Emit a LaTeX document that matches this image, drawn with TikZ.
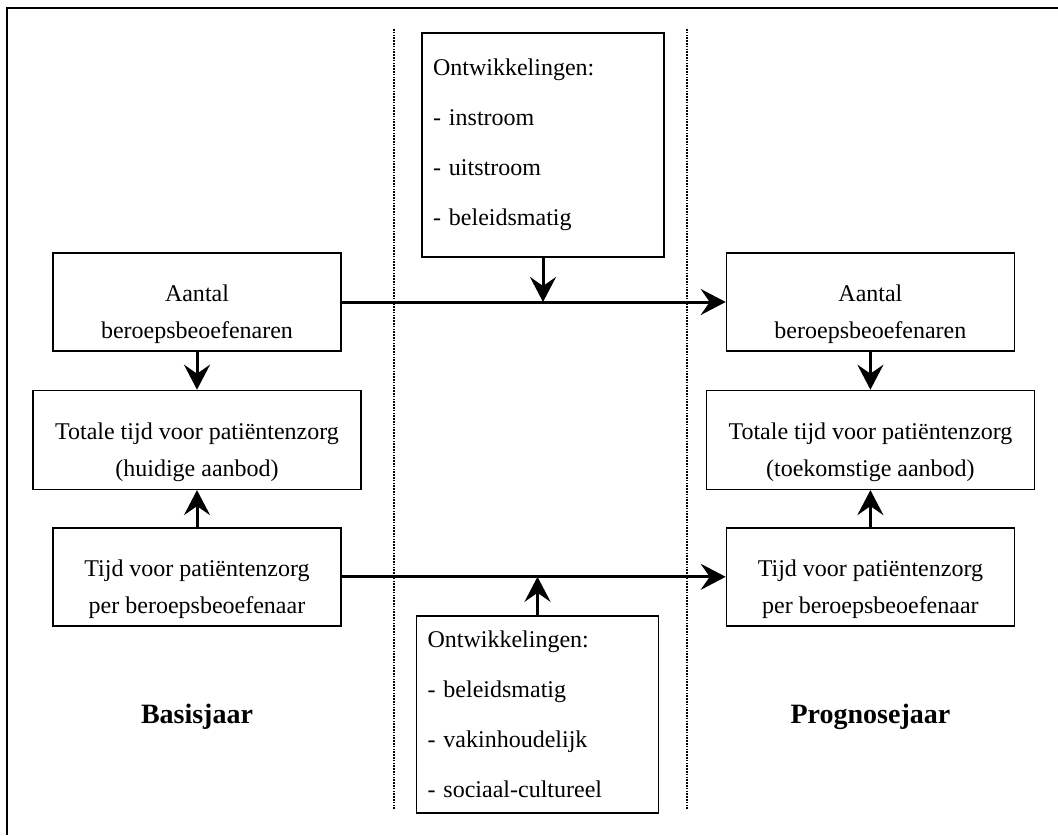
\documentclass[tikz,border=0pt]{standalone}
\usepackage{fontspec}
\setmainfont{Liberation Serif}
\usetikzlibrary{positioning, arrows.meta}
\newcommand{\topgap}{\rule{0pt}{21pt}}
\tikzset{
    stap/.style={rectangle, draw=black, line width=0.7pt, align=center, inner ysep=1pt, font=\fontsize{12}{18.5}\selectfont, minimum width=144pt, minimum height=49pt},
    totaal/.style={stap, minimum width=164pt, minimum height=49.5pt},
    ontw/.style={rectangle, draw=black, line width=0.7pt, align=left, text width=110pt, inner xsep=5.5pt, font=\fontsize{12}{25}\selectfont},
    jaar/.style={font=\fontsize{14}{17}\selectfont\bfseries},
    flow/.style={->, line width=1.5pt},
    grens/.style={line width=1pt, dash pattern=on 0.8pt off 0.6pt},
    >={Stealth[length=12.5pt, width=13pt, inset=4.5pt]},
}

\begin{document}
\begin{tikzpicture}[x=0.5pt, y=-0.5pt]
                        \useasboundingbox (0,0) rectangle (1058,835);
                        % kader en scheidingslijnen
                        \draw[line width=1pt] (7,835) |- (1058,8);
                        \draw[grens] (394,29) -- (394,810);
                        \draw[grens] (687,29) -- (687,810);
                        % basisjaar
                        \node [stap] (aantalL) at (197,302) {\topgap Aantal\\beroepsbeoefenaren};
                        \node [totaal] (totaalL) [below=19pt of aantalL] {\topgap Totale tijd voor patiëntenzorg\\(huidige aanbod)};
                        \node [stap] (tijdL) [below=18.5pt of totaalL] {\topgap Tijd voor patiëntenzorg\\per beroepsbeoefenaar};
                        \node [jaar] (basis) [below=35pt of tijdL] {Basisjaar};
                        % prognosejaar
                        \node [stap] (aantalR) [right=192pt of aantalL] {\topgap Aantal\\beroepsbeoefenaren};
                        \node [totaal] (totaalR) [below=19pt of aantalR] {\topgap Totale tijd voor patiëntenzorg\\(toekomstige aanbod)};
                        \node [stap] (tijdR) [below=18.5pt of totaalR] {\topgap Tijd voor patiëntenzorg\\per beroepsbeoefenaar};
                        \node [jaar] (prognose) [below=35pt of tijdR] {Prognosejaar};
                        % ontwikkelingen
                        \node [ontw, minimum height=112pt] (ontwIn) at (543,145) {Ontwikkelingen:\\- instroom\\- uitstroom\\- beleidsmatig};
                        \node [ontw, minimum height=98.5pt] (ontwTijd) at (537.5,714.5) {Ontwikkelingen:\\- beleidsmatig\\- vakinhoudelijk\\- sociaal-cultureel};
                        \coordinate (inAantal) at (ontwIn.south |- aantalL.east);
                        \coordinate (inTijd) at (ontwTijd.north |- tijdL.east);
                        \draw[flow] (aantalL) -- (aantalR);
                        \draw[flow] (tijdL) -- (tijdR);
                        \draw[flow] (aantalL) -- (totaalL);
                        \draw[flow] (tijdL) -- (totaalL);
                        \draw[flow] (aantalR) -- (totaalR);
                        \draw[flow] (tijdR) -- (totaalR);
                        \draw[flow] (ontwIn) -- (inAantal);
                        \draw[flow] (ontwTijd) -- (inTijd);
                    \end{tikzpicture}
\end{document}
